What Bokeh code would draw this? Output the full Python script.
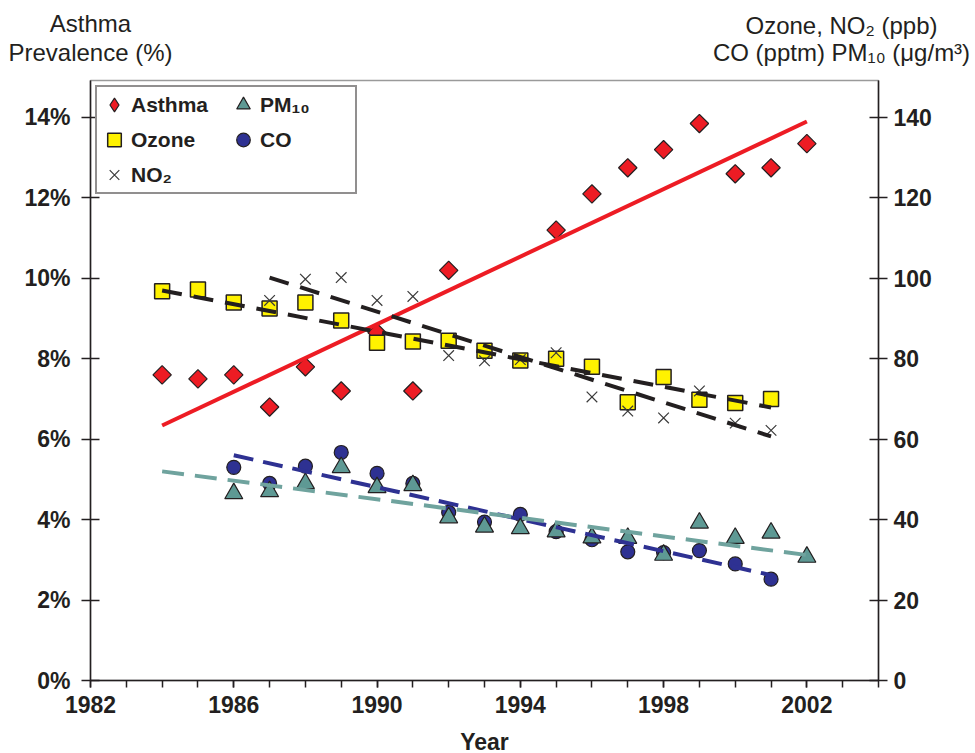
import math
from bokeh.plotting import figure
from bokeh.models import Range1d, LinearAxis, FixedTicker, Legend, LegendItem
from bokeh.layouts import column
from bokeh.core.properties import value
from bokeh.embed import file_html
from bokeh.resources import INLINE

# ---------------- data ----------------
asthma_years = [1984, 1985, 1986, 1987, 1988, 1989, 1990, 1991, 1992,
                1995, 1996, 1997, 1998, 1999, 2000, 2001, 2002]
asthma_pct = [7.6, 7.5, 7.6, 6.8, 7.8, 7.2, 8.65, 7.2, 10.2,
              11.2, 12.1, 12.75, 13.2, 13.85, 12.6, 12.75, 13.35]

ozone_years = list(range(1984, 2002))
ozone_ppb = [96.8, 97.2, 94.0, 92.5, 94.0, 89.5, 84.0, 84.3, 84.5,
             82.0, 79.6, 80.0, 78.0, 69.2, 75.5, 69.8, 69.0, 70.0]

no2_years = list(range(1987, 2002))
no2_ppb = [94.5, 99.8, 100.2, 94.5, 95.5, 80.8, 79.5, 79.8, 81.5,
           70.5, 67.0, 65.3, 72.0, 64.0, 62.2]

co_years = list(range(1986, 2002))
co_val = [53.0, 49.0, 53.3, 56.7, 51.5, 49.0, 41.8, 39.4, 41.3,
          37.0, 35.0, 32.0, 31.8, 32.3, 29.0, 25.2]

pm10_years = list(range(1986, 2003))
pm10_val = [46.5, 47.0, 49.0, 53.0, 48.0, 48.5, 40.5, 38.2, 37.8,
            37.0, 35.5, 35.4, 31.2, 39.2, 35.4, 36.7, 30.7]

# trend lines (end points)
asthma_trend_years = [1984, 2002]
asthma_trend = [6.34, 13.9]
ozone_trend_years = [1984, 2001]
ozone_trend = [97.0, 67.9]
no2_trend_years = [1987, 2001]
no2_trend = [100.2, 60.7]
co_trend_years = [1986, 2001]
co_trend = [56.0, 26.2]
pm10_trend_years = [1984, 2002]
pm10_trend = [52.0, 31.2]

left_ticks = [0, 2, 4, 6, 8, 10, 12, 14]
left_tick_labels = ["0%", "2%", "4%", "6%", "8%", "10%", "12%", "14%"]
right_ticks = [0, 20, 40, 60, 80, 100, 120, 140]
year_major = [1982, 1986, 1990, 1994, 1998, 2002]
year_minor = list(range(1982, 2005))

left_title = ["Asthma", "Prevalence (%)"]
right_title = ["Ozone, NO\u2082 (ppb)", "CO (pptm) PM\u2081\u2080 (\u03bcg/m\u00b3)"]
legend_labels = ["Asthma", "Ozone", "NO\u2082", "PM\u2081\u2080", "CO"]
x_title = ["Year"]

# ---------------- styling ----------------
FONT = "Liberation Sans"
INK = "#231F20"
RED = "#ED1C24"
YELLOW = "#FFF200"
NAVY = "#2E3192"
TEAL = "#5E9994"
TEAL_LINE = "#6FA39E"

W = 975
HEAD_H = 76          # page rows 0..76
FRAME_BOTTOM = 680   # page row of the x axis
MAIN_BOTTOM = 722    # page row where the footer starts
MAIN_H = MAIN_BOTTOM - HEAD_H
FOOT_H = 753 - MAIN_BOTTOM
SHIFT = 10           # measured offset of text glyph baselines


def text_strip(height):
    f = figure(width=W, height=height, output_backend="svg", toolbar_location=None,
               title=None, x_range=Range1d(0, W), y_range=Range1d(height, 0),
               x_axis_location=None, y_axis_location=None, min_border=0)
    f.frame_align = False
    f.xgrid.visible = False
    f.ygrid.visible = False
    f.outline_line_color = None
    return f


# ---------------- header with the two axis titles ----------------
head = text_strip(HEAD_H)
head.text(x=[90, 90], y=[33 - SHIFT, 62 - SHIFT], text=left_title, text_align="center",
          text_baseline="alphabetic", text_font=value(FONT),
          text_font_size="24px", text_color=INK)
head.text(x=[841, 841], y=[35 - SHIFT, 62 - SHIFT], text=right_title, text_align="center",
          text_baseline="alphabetic", text_font=value(FONT),
          text_font_size="24px", text_color=INK)

# ---------------- footer with the x title ----------------
foot = text_strip(FOOT_H)
foot.text(x=[484], y=[751 - MAIN_BOTTOM - SHIFT], text=x_title, text_align="center",
          text_baseline="alphabetic", text_font=value(FONT),
          text_font_size="23px", text_font_style="bold", text_color=INK)

# ---------------- main chart ----------------
p = figure(width=W, height=MAIN_H, output_backend="svg", toolbar_location=None,
           title=None, x_range=Range1d(1982, 2004), y_range=Range1d(0, 14.92),
           min_border_left=90, min_border_right=W - 878, min_border_top=80 - HEAD_H,
           min_border_bottom=MAIN_BOTTOM - FRAME_BOTTOM)
p.frame_align = False
p.extra_y_ranges = {"conc": Range1d(0, 149.2)}
p.xgrid.visible = False
p.ygrid.visible = False
p.outline_line_color = "#9a9a9a"
p.outline_line_width = 1.5


def style_axis(ax):
    ax.axis_line_color = INK
    ax.axis_line_width = 1.5
    ax.major_tick_line_color = INK
    ax.major_tick_line_width = 1.5
    ax.minor_tick_line_color = INK
    ax.minor_tick_line_width = 1.5
    ax.major_label_text_font = FONT
    ax.major_label_text_font_style = "bold"
    ax.major_label_text_font_size = "23px"
    ax.major_label_text_color = INK


ly = p.yaxis[0]
ly.ticker = FixedTicker(ticks=left_ticks)
ly.major_label_overrides = {t: s for t, s in zip(left_ticks, left_tick_labels)}
style_axis(ly)
ly.major_tick_in = 9
ly.major_tick_out = 9
ly.minor_tick_in = 0
ly.minor_tick_out = 0
ly.major_label_standoff = 11

ry = LinearAxis(y_range_name="conc", ticker=FixedTicker(ticks=right_ticks))
style_axis(ry)
ry.major_tick_in = 9
ry.major_tick_out = 9
ry.minor_tick_in = 0
ry.minor_tick_out = 0
ry.major_label_standoff = 6
p.add_layout(ry, "right")

bx = p.xaxis[0]
bx.ticker = FixedTicker(ticks=year_major, minor_ticks=year_minor)
style_axis(bx)
bx.major_tick_in = 0
bx.major_tick_out = 7
bx.minor_tick_in = 0
bx.minor_tick_out = 7
bx.major_label_standoff = 8

# ---------------- markers ----------------
r_asthma = p.scatter(asthma_years, asthma_pct, marker="square", angle=math.pi / 4,
                     size=13, fill_color=RED, line_color=INK, line_width=1.2)
# the legend does not rotate markers, so its swatch uses the diamond marker
r_asthma_key = p.scatter(asthma_years, asthma_pct, marker="diamond", size=13,
                         fill_color=RED, line_color=INK, line_width=1.2,
                         visible=False)
r_ozone = p.scatter(ozone_years, ozone_ppb, y_range_name="conc", marker="square",
                    size=15, fill_color=YELLOW, line_color=INK, line_width=1.5)
r_no2 = p.scatter(no2_years, no2_ppb, y_range_name="conc", marker="x",
                  size=15, line_color="#3a3a3a", line_width=1.2)
r_co = p.scatter(co_years, co_val, y_range_name="conc", marker="circle",
                 size=14, fill_color=NAVY, line_color=INK, line_width=1.2)
r_pm = p.scatter(pm10_years, pm10_val, y_range_name="conc", marker="triangle",
                 size=18, fill_color=TEAL, line_color=INK, line_width=1.2)

# ---------------- trend lines ----------------
p.line(asthma_trend_years, asthma_trend, line_color=RED, line_width=4)
p.line(ozone_trend_years, ozone_trend, y_range_name="conc", line_color=INK,
       line_width=4, line_dash="20 12")
p.line(no2_trend_years, no2_trend, y_range_name="conc", line_color=INK,
       line_width=4, line_dash="20 12")
p.line(co_trend_years, co_trend, y_range_name="conc", line_color=NAVY,
       line_width=4, line_dash="20 10")
p.line(pm10_trend_years, pm10_trend, y_range_name="conc", line_color=TEAL_LINE,
       line_width=4, line_dash="22 11")

# ---------------- legend ----------------
legend = Legend(items=[
    LegendItem(label=legend_labels[0], renderers=[r_asthma_key]),
    LegendItem(label=legend_labels[1], renderers=[r_ozone]),
    LegendItem(label=legend_labels[2], renderers=[r_no2]),
    LegendItem(label=legend_labels[3], renderers=[r_pm]),
    LegendItem(label=legend_labels[4], renderers=[r_co]),
], ncols=2, location="top_left", margin=5)
legend.label_text_font = FONT
legend.label_text_font_style = "bold"
legend.label_text_font_size = "21px"
legend.label_text_color = INK
legend.border_line_color = INK
legend.border_line_width = 2
legend.background_fill_alpha = 1
legend.padding = 0
legend.spacing = 0
legend.glyph_width = 34
legend.glyph_height = 35
legend.label_standoff = 0
legend.label_width = 95
legend.label_height = 20
p.add_layout(legend)

open("out.html", "w").write(file_html(column(head, p, foot, spacing=0), INLINE))
